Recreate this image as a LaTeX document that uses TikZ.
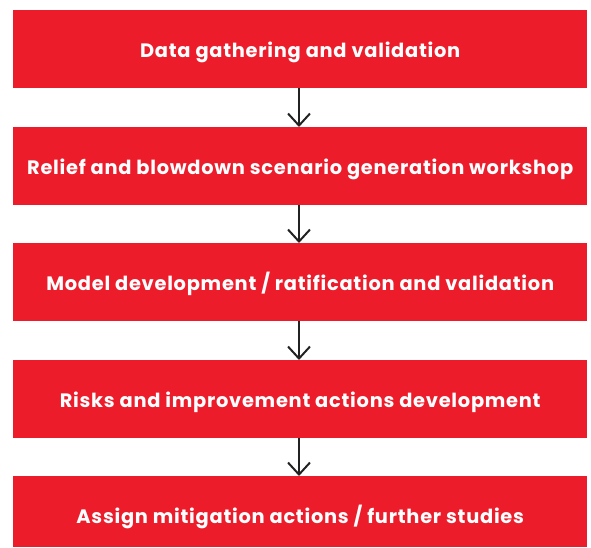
\documentclass[tikz,border=0pt]{standalone}
\usepackage{fontspec}
\setmainfont{Poppins}[BoldFont={Poppins Bold},BoldFeatures={LetterSpace=3.8}]
\usetikzlibrary{arrows.meta}
\definecolor{abbred}{RGB}{237,28,43}
\definecolor{arrowgray}{RGB}{34,34,34}
\begin{document}
\begin{tikzpicture}[x=1pt,y=-1pt,
  stepbox/.style={fill=abbred,draw=none,minimum width=574pt,minimum height=78pt,inner sep=0pt,
    text height=16pt,text depth=0pt,
    text=white,font=\fontsize{19.4}{20}\selectfont\bfseries,anchor=north west},
  flowarrow/.style={draw=arrowgray,line width=2pt,-{Straight Barb[length=12pt,width=22pt,line width=2pt]}}]
\useasboundingbox (0,0) rectangle (591,547);
\node[stepbox] (b1) at (13,10) {Data gathering and validation};
\node[stepbox] (b2) at (13,127) {Relief and blowdown scenario generation workshop};
\node[stepbox] (b3) at (13,243) {Model development / ratification and validation};
\node[stepbox] (b4) at (13,360) {Risks and improvement actions development};
\fill[abbred] (13,476) rectangle (587,547);
\node[stepbox,fill=none] (b5) at (13,476) {Assign mitigation actions / further studies};
\draw[flowarrow] (b1.south -| 299,0) -- (b2.north -| 299,0);
\draw[flowarrow] (b2.south -| 299,0) -- (b3.north -| 299,0);
\draw[flowarrow] (b3.south -| 299,0) -- (b4.north -| 299,0);
\draw[flowarrow] (b4.south -| 299,0) -- (b5.north -| 299,0);
\end{tikzpicture}
\end{document}
